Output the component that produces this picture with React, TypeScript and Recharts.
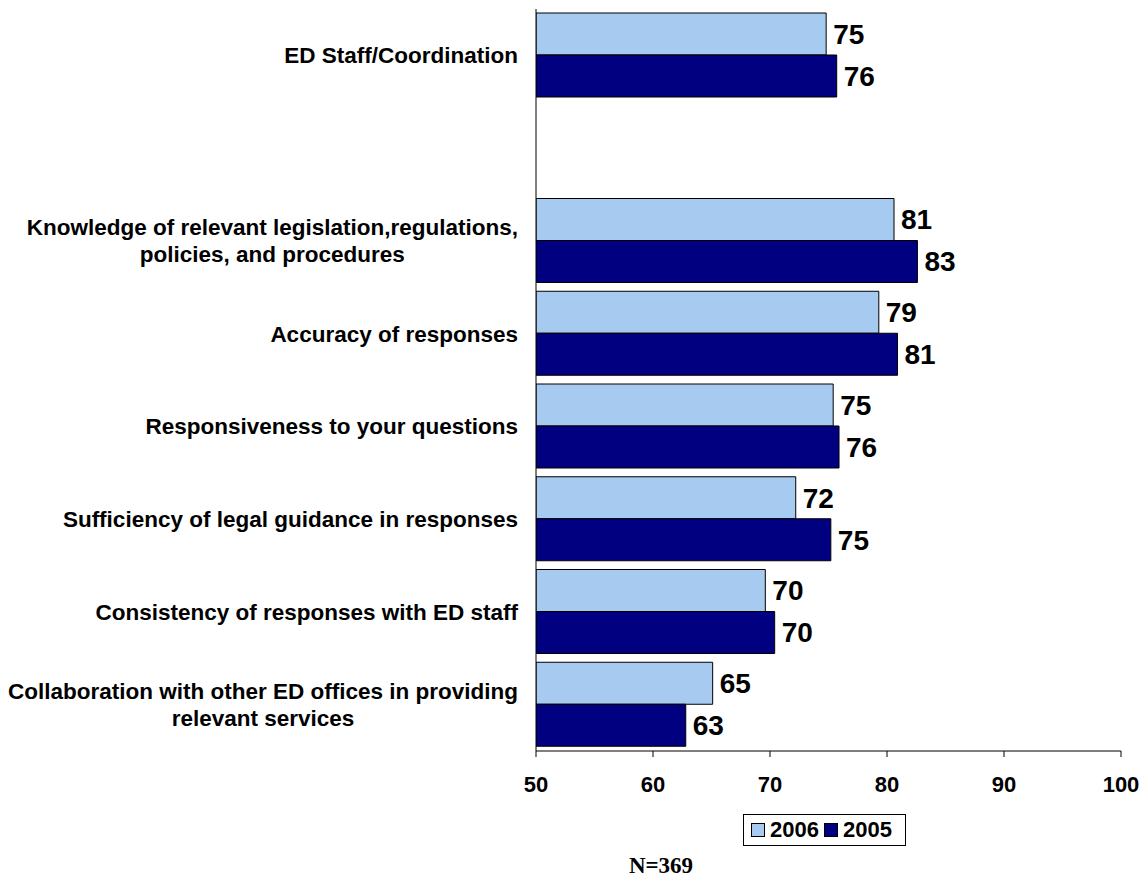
import { BarChart, Bar, XAxis, YAxis, LabelList } from 'recharts';

const categories = [
  'ED Staff/Coordination',
  '',
  'Knowledge of relevant legislation,regulations,\npolicies, and procedures',
  'Accuracy of responses',
  'Responsiveness to your questions',
  'Sufficiency of legal guidance in responses',
  'Consistency of responses with ED staff',
  'Collaboration with other ED offices in providing\nrelevant services',
];

const values2006 = [74.8, null, 80.6, 79.3, 75.4, 72.2, 69.6, 65.1];
const values2005 = [75.7, null, 82.6, 80.9, 75.9, 75.2, 70.4, 62.8];

const xTicks = [50, 60, 70, 80, 90, 100];

const seriesList = [
  { key: 'y2006', name: '2006', color: '#A6CAF0' },
  { key: 'y2005', name: '2005', color: '#000080' },
];

const data = categories.map((name, i) => ({
  name,
  y2006: values2006[i],
  y2005: values2005[i],
}));

const FONT = '"Liberation Sans", Arial, sans-serif';
const CAT_SIZE = 22.5;

let ctx: CanvasRenderingContext2D | null = null;
function textWidth(s: string) {
  if (!ctx) ctx = document.createElement('canvas').getContext('2d');
  if (!ctx) return s.length * 12;
  ctx.font = `bold ${CAT_SIZE}px "Liberation Sans", Arial, sans-serif`;
  return ctx.measureText(s).width;
}

// category label: right aligned block, lines centred inside it
function CategoryTick(props: any) {
  const { x, y, payload } = props;
  const label: string = payload.value || '';
  if (!label) return null;
  const lines = label.split('\n');
  const lineH = 27;
  const startDy = -((lines.length - 1) / 2) * lineH;
  if (lines.length === 1) {
    return (
      <text x={x} y={y} dy="0.35em" textAnchor="end" fontFamily={FONT} fontSize={CAT_SIZE} fontWeight="bold" fill="#000">
        {label}
      </text>
    );
  }
  const w = Math.max(...lines.map(textWidth));
  const cx = x - w / 2;
  return (
    <text x={cx} y={y} textAnchor="middle" fontFamily={FONT} fontSize={CAT_SIZE} fontWeight="bold" fill="#000">
      {lines.map((ln, i) => (
        <tspan key={i} x={cx} dy={i === 0 ? startDy + 7.8 : lineH}>
          {ln}
        </tspan>
      ))}
    </text>
  );
}

export default function App() {
  return (
    <div style={{ position: 'absolute', left: 0, top: 0, width: 1142, height: 877, background: '#fff' }}>
      <BarChart
        width={1142}
        height={877}
        data={data}
        layout="vertical"
        margin={{ top: 9, right: 21, bottom: 96, left: 0 }}
        barCategoryGap={4}
        barGap={0}
      >
        <XAxis
          type="number"
          domain={[50, 100]}
          ticks={xTicks}
          allowDataOverflow
          height={30}
          tickSize={6}
          tickMargin={19}
          axisLine={{ stroke: '#000' }}
          tickLine={{ stroke: '#000' }}
          tick={{ fill: '#000', fontSize: 22, fontWeight: 'bold', fontFamily: FONT }}
        />
        <XAxis
          xAxisId="top"
          orientation="top"
          type="number"
          domain={[50, 100]}
          height={0}
          tick={false}
          tickLine={false}
          axisLine={{ stroke: '#555' }}
        />
        <YAxis
          type="category"
          dataKey="name"
          width={536}
          tickSize={6}
          tickMargin={12}
          tickLine={false}
          axisLine={{ stroke: '#000' }}
          interval={0}
          tick={<CategoryTick />}
        />
        <YAxis
          yAxisId="right"
          orientation="right"
          type="category"
          dataKey="name"
          width={0}
          tick={false}
          tickLine={false}
          axisLine={{ stroke: '#808080' }}
        />
        {seriesList.map((s) => (
          <Bar key={s.key} dataKey={s.key} name={s.name} fill={s.color} stroke="#000" strokeWidth={1} isAnimationActive={false}>
            <LabelList
              dataKey={s.key}
              position="right"
              offset={7}
              formatter={(v: any) => (v == null ? '' : Math.round(v))}
              style={{ fill: '#000', fontSize: 28, fontWeight: 'bold', fontFamily: FONT }}
            />
          </Bar>
        ))}
      </BarChart>
      <div
        style={{
          position: 'absolute',
          left: 743,
          top: 814,
          width: 154,
          height: 30,
          border: '1px solid #000',
          display: 'flex',
          alignItems: 'center',
          paddingLeft: 7,
          boxSizing: 'content-box',
          fontFamily: FONT,
          fontWeight: 'bold',
          fontSize: 22,
        }}
      >
        {seriesList.map((s) => (
          <div key={s.key} style={{ display: 'flex', alignItems: 'center', marginRight: 5 }}>
            <span style={{ width: 12, height: 12, background: s.color, border: '1px solid #000', marginRight: 5 }} />
            <span>{s.name}</span>
          </div>
        ))}
      </div>
      <div
        style={{
          position: 'absolute',
          left: 561,
          width: 200,
          top: 854,
          textAlign: 'center',
          fontFamily: '"Liberation Serif", "Times New Roman", serif',
          fontWeight: 'bold',
          fontSize: 23,
          lineHeight: 1,
        }}
      >
        N=369
      </div>
    </div>
  );
}
